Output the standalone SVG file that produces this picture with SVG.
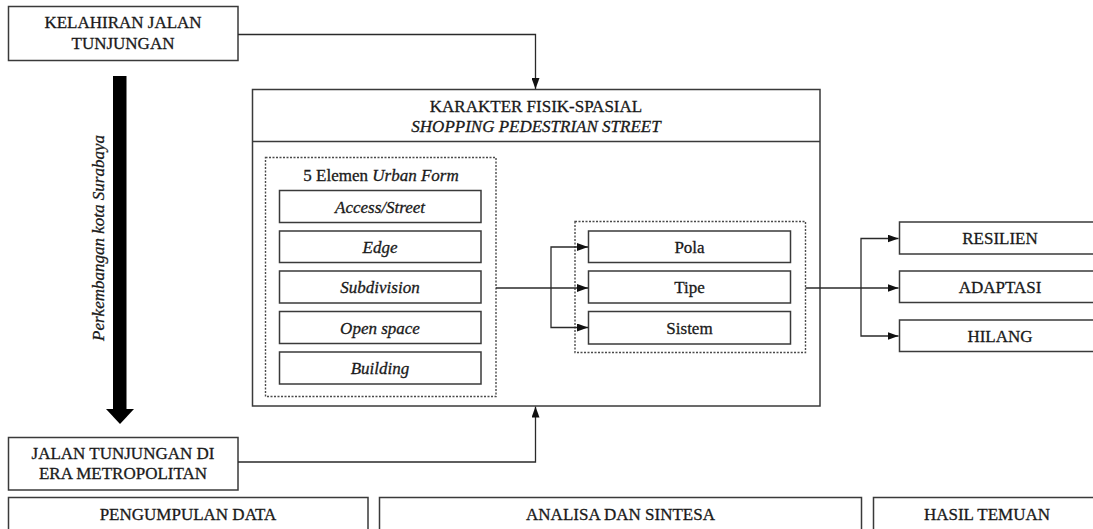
<svg xmlns="http://www.w3.org/2000/svg" width="1093" height="529" viewBox="0 0 1093 529">
<style>
.box{fill:#fff;stroke:#3a3a3a;stroke-width:1.5}
.dot{fill:none;stroke:#4a4a4a;stroke-width:1.4;stroke-dasharray:2 1.5}
.ln{fill:none;stroke:#2a2a2a;stroke-width:1.3}
text{font-family:"Liberation Serif","Times New Roman",serif;font-size:17px;fill:#1a1a1a;stroke:#1a1a1a;stroke-width:0.3;text-anchor:middle}
.i{font-style:italic}
</style>
<defs>
<marker id="ah" viewBox="0 0 11 8" refX="11" refY="4" markerWidth="11" markerHeight="8" markerUnits="userSpaceOnUse" orient="auto">
<path d="M0,0 L11,4 L0,8 Z" fill="#111"/>
</marker>
</defs>
<rect width="1093" height="529" fill="#fff"/>

<g id="kelahiran">
<rect class="box" x="8.5" y="6.5" width="229.5" height="54"/>
<text x="123" y="28">KELAHIRAN JALAN</text>
<text x="123" y="48.5">TUNJUNGAN</text>
</g>

<g id="perkembangan">
<rect x="113" y="76" width="13.5" height="334" fill="#000"/>
<polygon points="106,409 134,409 120,424" fill="#000"/>
<text class="i" transform="translate(104,238) rotate(-90)">Perkembangan kota Surabaya</text>
</g>

<g id="karakter">
<rect class="box" x="252.5" y="89.5" width="567.5" height="316.5"/>
<line class="box" x1="252.5" y1="141.5" x2="820" y2="141.5"/>
<text x="536" y="112">KARAKTER FISIK-SPASIAL</text>
<text class="i" x="536" y="131.5">SHOPPING PEDESTRIAN STREET</text>
</g>

<g id="urban-form">
<rect class="dot" x="265.5" y="157.5" width="230.5" height="239"/>
<text x="381" y="181"><tspan>5 Elemen </tspan><tspan class="i">Urban Form</tspan></text>
</g>
<g id="access">
<rect class="box" x="279.5" y="190.5" width="201.5" height="32"/>
<text class="i" x="380" y="212.5">Access/Street</text>
</g>
<g id="edge">
<rect class="box" x="279.5" y="231" width="201.5" height="31.5"/>
<text class="i" x="380" y="252.5">Edge</text>
</g>
<g id="subdivision">
<rect class="box" x="279.5" y="271" width="201.5" height="32"/>
<text class="i" x="380" y="293">Subdivision</text>
</g>
<g id="openspace">
<rect class="box" x="279.5" y="311.5" width="201.5" height="32"/>
<text class="i" x="380" y="333.5">Open space</text>
</g>
<g id="building">
<rect class="box" x="279.5" y="352" width="201.5" height="32"/>
<text class="i" x="380" y="374">Building</text>
</g>

<g id="pts">
<rect class="dot" x="575" y="221.5" width="230.5" height="131"/>
</g>
<g id="pola">
<rect class="box" x="588.5" y="231" width="202" height="31.5"/>
<text x="689.5" y="252.5">Pola</text>
</g>
<g id="tipe">
<rect class="box" x="588.5" y="271" width="202" height="32"/>
<text x="689.5" y="293">Tipe</text>
</g>
<g id="sistem">
<rect class="box" x="588.5" y="311.5" width="202" height="32.5"/>
<text x="689.5" y="333.5">Sistem</text>
</g>

<g id="resilien">
<rect class="box" x="899.5" y="222" width="201" height="32"/>
<text x="1000" y="244">RESILIEN</text>
</g>
<g id="adaptasi">
<rect class="box" x="899.5" y="271" width="201" height="31.5"/>
<text x="1000" y="292.5">ADAPTASI</text>
</g>
<g id="hilang">
<rect class="box" x="899.5" y="320" width="201" height="31.5"/>
<text x="1000" y="342">HILANG</text>
</g>

<g id="jalan-metropolitan">
<rect class="box" x="8.5" y="437.5" width="229.5" height="52.5"/>
<text x="123" y="459">JALAN TUNJUNGAN DI</text>
<text x="123" y="479">ERA METROPOLITAN</text>
</g>

<g id="pengumpulan">
<rect class="box" x="8.5" y="497.5" width="359.5" height="40"/>
<text x="188" y="520">PENGUMPULAN DATA</text>
</g>
<g id="analisa">
<rect class="box" x="379.5" y="497.5" width="482" height="40"/>
<text x="620.5" y="520">ANALISA DAN SINTESA</text>
</g>
<g id="hasil">
<rect class="box" x="873.5" y="497.5" width="228" height="40"/>
<text x="987" y="520">HASIL TEMUAN</text>
</g>

<g id="connectors">
<polyline class="ln" points="238,34.5 535.5,34.5 535.5,89" marker-end="url(#ah)"/>
<polyline class="ln" points="238,462 535.5,462 535.5,406.5" marker-end="url(#ah)"/>
<line class="ln" x1="496" y1="288" x2="588" y2="288" marker-end="url(#ah)"/>
<polyline class="ln" points="551,288 551,247 588,247" marker-end="url(#ah)"/>
<polyline class="ln" points="551,288 551,327.5 588,327.5" marker-end="url(#ah)"/>
<line class="ln" x1="805.5" y1="288" x2="898.5" y2="288" marker-end="url(#ah)"/>
<polyline class="ln" points="861,288 861,238.5 898.5,238.5" marker-end="url(#ah)"/>
<polyline class="ln" points="861,288 861,336 898.5,336" marker-end="url(#ah)"/>
</g>
</svg>
